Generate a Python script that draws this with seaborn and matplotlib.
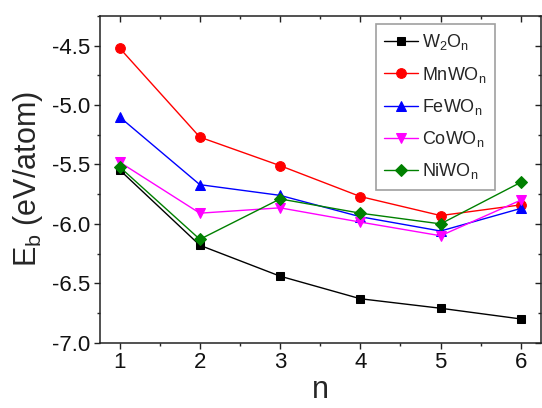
import matplotlib
matplotlib.use("Agg")
import matplotlib.pyplot as plt
from matplotlib.ticker import MultipleLocator, FormatStrFormatter
import seaborn as sns
import pandas as pd

n = [1, 2, 3, 4, 5, 6]
w2o = [-5.545, -6.18, -6.44, -6.63, -6.71, -6.80]
mnwo = [-4.52, -5.27, -5.51, -5.77, -5.93, -5.84]
fewo = [-5.10, -5.67, -5.76, -5.94, -6.06, -5.87]
cowo = [-5.48, -5.91, -5.865, -5.985, -6.10, -5.80]
niwo = [-5.52, -6.13, -5.79, -5.91, -6.00, -5.65]

labels = [r"W$_2$O$_n$", r"MnWO$_n$", r"FeWO$_n$", r"CoWO$_n$", r"NiWO$_n$"]
series = [w2o, mnwo, fewo, cowo, niwo]
colors = ["#000000", "#FF0000", "#0000FF", "#FF00FF", "#008000"]
markers = ["s", "o", "^", "v", "D"]
msizes = [6, 7, 7, 7, 6]

sns.set_style("ticks")
plt.rcParams["font.family"] = ["Liberation Sans", "DejaVu Sans"]
plt.rcParams["mathtext.default"] = "regular"
plt.rcParams["axes.unicode_minus"] = False

df = pd.DataFrame({
    "n": n * len(series),
    "Eb": [v for s in series for v in s],
    "sys": [lab for lab in labels for _ in n],
})

fig = plt.figure(figsize=(5.42, 4.08), dpi=100)
ax = fig.add_axes([0.1836, 0.160, 0.8144, 0.801])

for lab, c, m, ms in zip(labels, colors, markers, msizes):
    sub = df[df["sys"] == lab]
    sns.lineplot(data=sub, x="n", y="Eb", ax=ax, color=c, marker=m,
                 markersize=ms, markeredgecolor=c, linewidth=1.0,
                 label=lab, zorder=3)

ax.set_xlim(0.75, 6.25)
ax.set_ylim(-7.0, -4.25)
ax.xaxis.set_major_locator(MultipleLocator(1))
ax.xaxis.set_minor_locator(MultipleLocator(0.5))
ax.yaxis.set_major_locator(MultipleLocator(0.5))
ax.yaxis.set_minor_locator(MultipleLocator(0.25))
ax.yaxis.set_major_formatter(FormatStrFormatter("%.1f"))
ax.xaxis.set_major_formatter(FormatStrFormatter("%d"))

for sp in ax.spines.values():
    sp.set_visible(True)
    sp.set_linewidth(1.1)
    sp.set_color("#222222")

ax.tick_params(axis="both", which="major", direction="out", length=4,
               width=1.0, labelsize=16, pad=3, colors="#222222")
ax.tick_params(axis="both", which="minor", direction="out", length=2.5,
               width=1.0)
ax.tick_params(which="both", top=True, right=True)
# mirror ticks on top/right point inward
for t in ax.xaxis.get_major_ticks() + ax.xaxis.get_minor_ticks():
    t.tick2line.set_marker(matplotlib.lines.TICKDOWN)
for t in ax.yaxis.get_major_ticks() + ax.yaxis.get_minor_ticks():
    t.tick2line.set_marker(matplotlib.lines.TICKLEFT)
ax.tick_params(labelcolor="#111111")

ax.set_xlabel("n", fontsize=22, labelpad=1)
ax.set_ylabel(r"E$_b$ (eV/atom)", fontsize=22, labelpad=5)

leg = ax.legend(loc="upper right", bbox_to_anchor=(0.896, 0.9746),
                borderaxespad=0, fontsize=13, handlelength=1.9,
                handletextpad=0.25, labelspacing=0.68, borderpad=0.45,
                fancybox=False, frameon=True)
leg.get_frame().set_edgecolor("#888888")
leg.get_frame().set_linewidth(1.2)

fig.savefig("out.png", dpi=100)
